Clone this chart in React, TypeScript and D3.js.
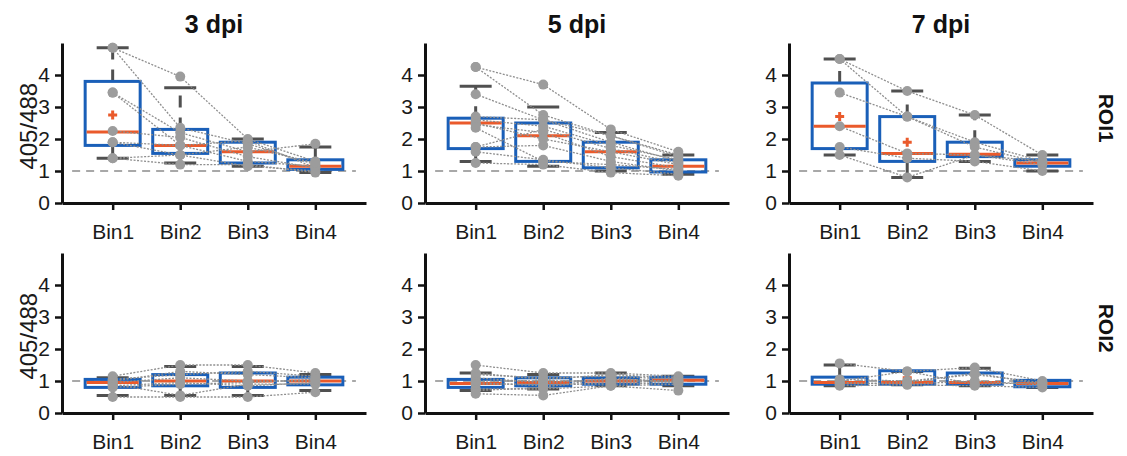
import React, { useEffect, useRef } from "react";
import * as d3 from "d3";

const bins = ["Bin1", "Bin2", "Bin3", "Bin4"];
const timepoints = ["3 dpi", "5 dpi", "7 dpi"];
const rois = ["ROI1", "ROI2"];
const yTicks = [0, 1, 2, 3, 4];
const refValue = 1;

// Box statistics per bin: [lowerWhisker, q1, median, q3, upperWhisker, mean]
const roi1_3dpi_box = [
  [1.4, 1.8, 2.22, 3.8, 4.85, 2.75],
  [1.25, 1.55, 1.8, 2.3, 3.6, null],
  [1.15, 1.25, 1.6, 1.9, 2.0, null],
  [0.95, 1.05, 1.15, 1.35, 1.75, null],
];
const roi1_5dpi_box = [
  [1.3, 1.7, 2.5, 2.65, 3.65, null],
  [1.15, 1.3, 2.1, 2.5, 3.0, null],
  [1.0, 1.1, 1.6, 1.9, 2.2, null],
  [0.9, 0.97, 1.15, 1.35, 1.5, null],
];
const roi1_7dpi_box = [
  [1.5, 1.7, 2.4, 3.75, 4.5, 2.7],
  [0.8, 1.3, 1.55, 2.7, 3.5, 1.9],
  [1.3, 1.45, 1.52, 1.9, 2.75, null],
  [1.0, 1.15, 1.25, 1.35, 1.5, null],
];
const roi2_3dpi_box = [
  [0.55, 0.8, 0.95, 1.05, 1.1, null],
  [0.55, 0.85, 1.0, 1.2, 1.45, null],
  [0.55, 0.8, 1.0, 1.25, 1.45, null],
  [0.7, 0.88, 1.0, 1.12, 1.2, null],
];
const roi2_5dpi_box = [
  [0.7, 0.8, 0.92, 1.05, 1.25, null],
  [0.75, 0.85, 0.95, 1.1, 1.2, null],
  [0.85, 0.9, 1.0, 1.1, 1.25, null],
  [0.85, 0.9, 1.02, 1.12, 1.15, null],
];
const roi2_7dpi_box = [
  [0.85, 0.9, 0.95, 1.12, 1.5, null],
  [0.88, 0.9, 0.95, 1.32, 1.3, 1.1],
  [0.85, 0.9, 0.95, 1.25, 1.4, null],
  [0.8, 0.82, 0.92, 1.02, 1.0, null],
];

// Individual subjects (values at Bin1..Bin4)
const roi1_3dpi_subjects = [
  [4.85, 3.95, 2.0, 1.3],
  [4.85, 2.35, 1.85, 1.2],
  [3.45, 2.2, 1.6, 1.85],
  [3.45, 1.8, 1.95, 1.1],
  [2.25, 2.05, 1.45, 1.1],
  [1.9, 1.8, 1.3, 1.15],
  [1.9, 1.5, 1.75, 1.25],
  [1.4, 1.5, 1.15, 1.0],
  [1.4, 1.2, 1.2, 0.95],
];
const roi1_5dpi_subjects = [
  [4.25, 3.7, 2.3, 1.6],
  [4.25, 2.75, 2.1, 1.5],
  [3.4, 2.6, 2.1, 1.45],
  [2.7, 2.6, 1.9, 1.3],
  [2.6, 2.4, 1.8, 1.35],
  [2.5, 2.0, 1.6, 1.2],
  [2.45, 2.2, 1.45, 1.1],
  [2.35, 1.3, 1.2, 1.05],
  [1.75, 2.3, 1.7, 1.25],
  [1.75, 1.8, 1.3, 1.0],
  [1.6, 1.35, 1.1, 0.9],
  [1.25, 1.2, 0.95, 0.85],
];
const roi1_7dpi_subjects = [
  [4.5, 3.5, 2.75, 1.5],
  [4.5, 2.7, 1.9, 1.3],
  [3.45, 2.7, 1.75, 1.25],
  [2.4, 1.55, 1.5, 1.2],
  [1.75, 1.4, 1.3, 1.0],
  [1.5, 0.8, 1.5, 1.3],
];
const roi2_3dpi_subjects = [
  [1.15, 1.5, 1.5, 1.25],
  [1.05, 1.2, 1.3, 1.15],
  [1.0, 1.3, 1.2, 1.1],
  [0.95, 1.1, 1.0, 1.0],
  [0.9, 0.55, 0.9, 0.9],
  [0.85, 0.95, 0.85, 0.95],
  [0.8, 0.9, 0.95, 1.05],
  [0.5, 0.5, 0.5, 0.65],
];
const roi2_5dpi_subjects = [
  [1.5, 1.25, 1.25, 1.15],
  [1.25, 1.05, 1.2, 1.1],
  [1.2, 1.1, 1.15, 1.05],
  [1.1, 0.95, 1.05, 1.0],
  [1.0, 1.0, 1.0, 1.0],
  [0.95, 0.85, 0.95, 1.0],
  [0.9, 0.9, 0.9, 0.95],
  [0.75, 0.75, 0.85, 0.9],
  [0.7, 0.8, 1.1, 0.95],
  [0.6, 0.55, 0.85, 0.7],
];
const roi2_7dpi_subjects = [
  [1.55, 1.3, 1.42, 1.0],
  [1.05, 1.0, 1.2, 0.95],
  [1.0, 1.3, 0.9, 0.95],
  [0.95, 0.9, 1.0, 0.88],
  [0.9, 0.95, 1.25, 0.9],
  [0.85, 0.88, 0.85, 0.8],
];

const panelBoxes = [
  [roi1_3dpi_box, roi1_5dpi_box, roi1_7dpi_box],
  [roi2_3dpi_box, roi2_5dpi_box, roi2_7dpi_box],
];
const panelSubjects = [
  [roi1_3dpi_subjects, roi1_5dpi_subjects, roi1_7dpi_subjects],
  [roi2_3dpi_subjects, roi2_5dpi_subjects, roi2_7dpi_subjects],
];

const W = 1127;
const H = 456;
const FONT = "'Liberation Sans', Arial, sans-serif";
const colOrigins = [62, 425, 789];
const panelWidth = 304;
const rowBottoms = [203, 413];
const rowHeight = 160;
const BLUE = "#1a5fb8";
const RED = "#ea5a2b";
const WHISK = "#505050";
const GREY = "#9c9c9c";

export default function App() {
  const ref = useRef<SVGSVGElement>(null);

  useEffect(() => {
    const svg = d3.select(ref.current);
    svg.selectAll("*").remove();

    rois.forEach((roi, r) => {
      timepoints.forEach((tp, c) => {
        const ox = colOrigins[c];
        const yb = rowBottoms[r];
        const x = d3.scaleLinear().domain([0.25, 4.75]).range([ox, ox + panelWidth]);
        const y = d3.scaleLinear().domain([0, 5]).range([yb, yb - rowHeight]);
        const g = svg.append("g");
        const boxes = panelBoxes[r][c];
        const subjects = panelSubjects[r][c];

        // reference line
        g.append("line")
          .attr("x1", x(0.4)).attr("x2", x(4.6))
          .attr("y1", y(refValue)).attr("y2", y(refValue))
          .attr("stroke", "#a8a8a8").attr("stroke-width", 2)
          .attr("stroke-dasharray", "8,6");

        const bw = 55;
        const cw = 32;
        boxes.forEach((b, i) => {
          const cx = x(i + 1);
          const [lo, q1, med, q3, hi] = b as number[];
          // whiskers
          g.append("line")
            .attr("x1", cx).attr("x2", cx)
            .attr("y1", y(q3)).attr("y2", y(Math.max(hi, q3)))
            .attr("stroke", WHISK).attr("stroke-width", 3)
            .attr("stroke-dasharray", "12,10");
          g.append("line")
            .attr("x1", cx).attr("x2", cx)
            .attr("y1", y(q1)).attr("y2", y(Math.min(lo, q1)))
            .attr("stroke", WHISK).attr("stroke-width", 3)
            .attr("stroke-dasharray", "12,10");
          [lo, hi].forEach((v) => {
            g.append("line")
              .attr("x1", cx - cw / 2).attr("x2", cx + cw / 2)
              .attr("y1", y(v)).attr("y2", y(v))
              .attr("stroke", WHISK).attr("stroke-width", 3);
          });
          // box
          g.append("rect")
            .attr("x", cx - bw / 2).attr("width", bw)
            .attr("y", y(q3)).attr("height", y(q1) - y(q3))
            .attr("fill", "none").attr("stroke", BLUE).attr("stroke-width", 3);
          // median
          g.append("line")
            .attr("x1", cx - bw / 2 + 1.5).attr("x2", cx + bw / 2 - 1.5)
            .attr("y1", y(med)).attr("y2", y(med))
            .attr("stroke", RED).attr("stroke-width", 3);
        });

        // subject connecting lines
        const line = d3.line<number>().x((_, i) => x(i + 1)).y((v) => y(v));
        subjects.forEach((s) => {
          g.append("path")
            .attr("d", line(s))
            .attr("fill", "none")
            .attr("stroke", "#8e8e8e")
            .attr("stroke-width", 1.3)
            .attr("stroke-dasharray", "2,1.5");
        });

        // means
        boxes.forEach((b, i) => {
          const m = b[5];
          if (m == null) return;
          const cx = x(i + 1);
          const cy = y(m);
          g.append("path")
            .attr("d", `M${cx - 4.5},${cy}H${cx + 4.5}M${cx},${cy - 4.5}V${cy + 4.5}`)
            .attr("stroke", RED).attr("stroke-width", 3);
        });

        // points
        subjects.forEach((s) => {
          s.forEach((v, i) => {
            g.append("circle")
              .attr("cx", x(i + 1)).attr("cy", y(v)).attr("r", 5)
              .attr("fill", GREY);
          });
        });

        // axes
        const ya = d3.axisLeft(y).tickValues(yTicks).tickSize(7).tickSizeOuter(0).tickPadding(5)
          .tickFormat(d3.format("d"));
        const yg = g.append("g").attr("transform", `translate(${ox},0)`).call(ya);
        const xa = d3.axisBottom(x).tickValues([1, 2, 3, 4]).tickSize(7).tickSizeOuter(0).tickPadding(14)
          .tickFormat((d) => bins[(d as number) - 1]);
        const xg = g.append("g").attr("transform", `translate(0,${yb})`).call(xa);
        [yg, xg].forEach((ag) => {
          ag.select(".domain").attr("stroke", "#111").attr("stroke-width", 3);
          ag.selectAll(".tick line").attr("stroke", "#111").attr("stroke-width", 2.5);
          ag.selectAll(".tick text")
            .attr("fill", "#1a1a1a")
            .style("font-family", FONT)
            .style("font-size", "21px");
        });

        if (r === 0) {
          g.append("text")
            .attr("x", ox + panelWidth / 2).attr("y", 33)
            .attr("text-anchor", "middle")
            .style("font-family", FONT).style("font-size", "25px").style("font-weight", "bold")
            .attr("fill", "#111")
            .text(tp);
        }
        if (c === 0) {
          g.append("text")
            .attr("transform", `translate(37,${y(2.4)}) rotate(-90)`)
            .attr("text-anchor", "middle")
            .style("font-family", FONT).style("font-size", "24px")
            .attr("fill", "#1a1a1a")
            .text("405/488");
        }
        if (c === 2) {
          g.append("text")
            .attr("transform", `translate(1099,${y(2.65)}) rotate(90)`)
            .attr("text-anchor", "middle")
            .style("font-family", FONT).style("font-size", "21px").style("font-weight", "bold")
            .attr("fill", "#111")
            .text(roi);
        }
      });
    });
  }, []);

  return (
    <svg
      ref={ref}
      width={W}
      height={H}
      style={{ position: "absolute", left: 0, top: 0, background: "#fff" }}
    />
  );
}
